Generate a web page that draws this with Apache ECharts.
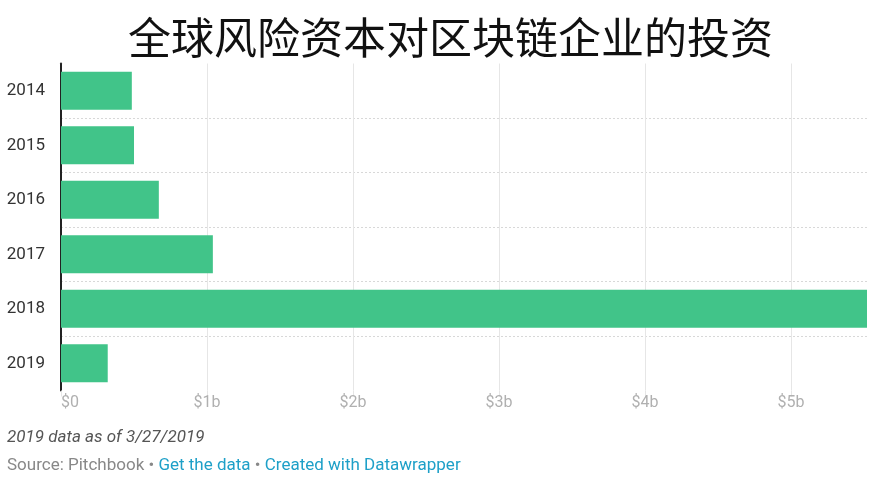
<!DOCTYPE html>
<html>
<head>
<meta charset="utf-8">
<script src="https://cdn.jsdelivr.net/npm/echarts@6/dist/echarts.min.js"></script>
<style>html,body{margin:0;padding:0;background:#fff}#c{width:880px;height:482px}</style>
</head>
<body>
<div id="c"></div>
<script>
var titleText = '全球风险资本对区块链企业的投资';
var years = ['2014', '2015', '2016', '2017', '2018', '2019'];
var investment = [0.485, 0.50, 0.67, 1.04, 5.52, 0.32]; // billions USD
var xTicks = [0, 1, 2, 3, 4, 5];
var noteText = '2019 data as of 3/27/2019';

var chart = echarts.init(document.getElementById('c'), null, {renderer: 'canvas'});
chart.setOption({
  animation: false,
  backgroundColor: '#ffffff',
  title: {
    text: titleText,
    left: 128,
    top: 16,
    padding: 0,
    textStyle: {fontFamily: 'Noto Sans CJK SC', fontSize: 43, fontWeight: 'normal', color: '#111'}
  },
  grid: {left: 61, right: 13, top: 63.5, bottom: 91.5, containLabel: false},
  xAxis: {
    type: 'value',
    min: 0,
    max: 'dataMax',
    interval: 1,
    axisLine: {show: false},
    axisTick: {show: true, length: 6, lineStyle: {color: '#e6e6e6'}},
    axisLabel: {
      showMaxLabel: false,
      alignMinLabel: 'left',
      color: '#b0b0b0',
      fontFamily: 'Roboto',
      fontSize: 16,
      margin: 4,
      formatter: function (v) { return xTicks.indexOf(v) < 0 ? '' : (v === 0 ? '$0' : '$' + v + 'b'); }
    },
    splitLine: {show: true, showMinLine: false, showMaxLine: false, lineStyle: {color: '#e6e6e6', width: 1}}
  },
  yAxis: {
    type: 'category',
    data: years,
    inverse: true,
    axisLine: {show: true, lineStyle: {color: '#222', width: 2}},
    axisTick: {show: false},
    axisLabel: {color: '#333', fontFamily: 'Roboto', fontSize: 17, margin: 16},
    splitLine: {show: true, showMinLine: false, showMaxLine: false, lineStyle: {color: '#d8d8d8', type: [2, 2], width: 1}}
  },
  series: [{
    type: 'bar',
    data: investment,
    barWidth: 38,
    itemStyle: {color: '#41c489'},
    z: 3
  }],
  graphic: [
    {type: 'text', left: 7, top: 429, style: {text: noteText, fontFamily: 'Roboto', fontStyle: 'italic', fontSize: 17, fill: '#555'}},
    {type: 'text', left: 7, top: 457, style: {
      text: '{g|Source: Pitchbook • }{b|Get the data}{g| • }{b|Created with Datawrapper}',
      rich: {
        g: {fontFamily: 'Roboto', fontSize: 17, fill: '#888', color: '#888'},
        b: {fontFamily: 'Roboto', fontSize: 17, fill: '#1ea0c8', color: '#1ea0c8'}
      }
    }}
  ]
});
</script>
</body>
</html>
